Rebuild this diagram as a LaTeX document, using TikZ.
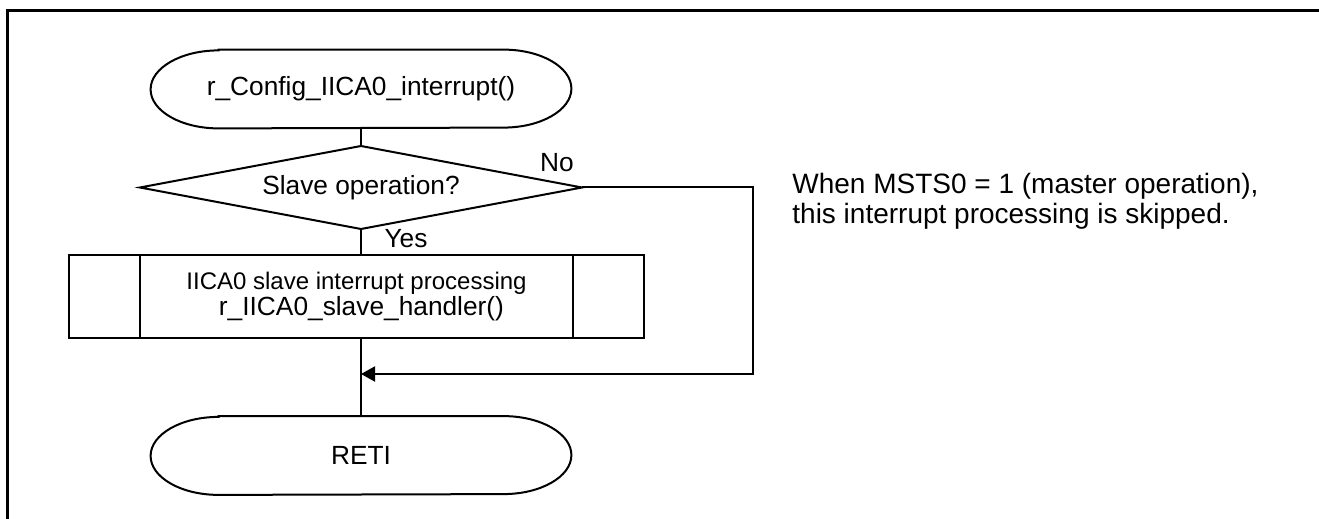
\documentclass[tikz,border=0pt]{standalone}
\usepackage{fontspec}
\setmainfont{Liberation Sans}
\usetikzlibrary{arrows.meta,calc}
\tikzset{
  term/.style={minimum width=210pt, minimum height=39pt, inner sep=0pt, font=\fontsize{13.15}{15}\selectfont},
  lbl/.style={inner sep=0pt, font=\fontsize{13.15}{15}\selectfont},
  procbox/.style={draw, line width=1pt, minimum width=287.5pt, minimum height=41.5pt, inner sep=0pt, align=center},
  flow/.style={line width=1pt},
  frameline/.style={line width=1.5pt},
}
\newcommand\drawterminal[1]{%
  \draw[flow] ([xshift=34pt]#1.north west) -- ([xshift=-34pt]#1.north east)
    arc[start angle=90,end angle=-90,x radius=34pt,y radius=19.5pt]
    -- ([xshift=34pt]#1.south west)
    arc[start angle=270,end angle=90,x radius=34pt,y radius=19.5pt] -- cycle;}
\begin{document}
\begin{tikzpicture}[x=0.5pt,y=-0.5pt]
\useasboundingbox (0,0) rectangle (1319,519);
% frame
\coordinate (frBL) at (7,519);
\coordinate (frTL) at (7,11);
\coordinate (frTR) at (1319,11);
\draw[frameline] (frBL) -- (frTL) -- (frTR);
% start terminal
\node[term] (start) at (361,89) {r\_Config\_IICA0\_interrupt()};
\drawterminal{start}
% decision
\node[lbl] (dec) at (361,187.5) {Slave operation?};
\coordinate (decT) at (361,146);
\coordinate (decB) at (361,229);
\coordinate (decL) at (140,187.5);
\coordinate (decR) at (582,187.5);
\draw[flow] (decL) -- (decT) -- (decR) -- (decB) -- cycle;
\node[lbl] (no) at (557,163) {No};
\node[lbl] (yes) at (406,239) {Yes};
% process
\node[procbox] (proc) at (356.5,296.5) {{\fontsize{12}{15}\selectfont IICA0 slave interrupt processing}\\\hspace*{5pt}{\fontsize{13.15}{15}\selectfont r\_IICA0\_slave\_handler()}};
\draw[flow] ([xshift=36pt]proc.north west) -- ([xshift=36pt]proc.south west);
\draw[flow] ([xshift=-36pt]proc.north east) -- ([xshift=-36pt]proc.south east);
% end terminal
\node[term] (reti) at (361,455.5) {RETI};
\drawterminal{reti}
% connectors
\coordinate (join) at (361,374);
\coordinate (nocorner) at (753,374);
\draw[flow] (start.south) -- (decT);
\draw[flow] (decB) -- (decB |- proc.north);
\draw[flow] (reti.north |- proc.south) -- (reti.north);
\draw[flow,-{Triangle[length=7pt,width=7.5pt]}] (decR) -| (nocorner) -- (join);
% note
\node[inner sep=0pt, anchor=west, align=left, font=\fontsize{14}{15}\selectfont] (note) at (792,201)
  {When MSTS0 = 1 (master operation),\\this interrupt processing is skipped.};
\end{tikzpicture}
\end{document}
